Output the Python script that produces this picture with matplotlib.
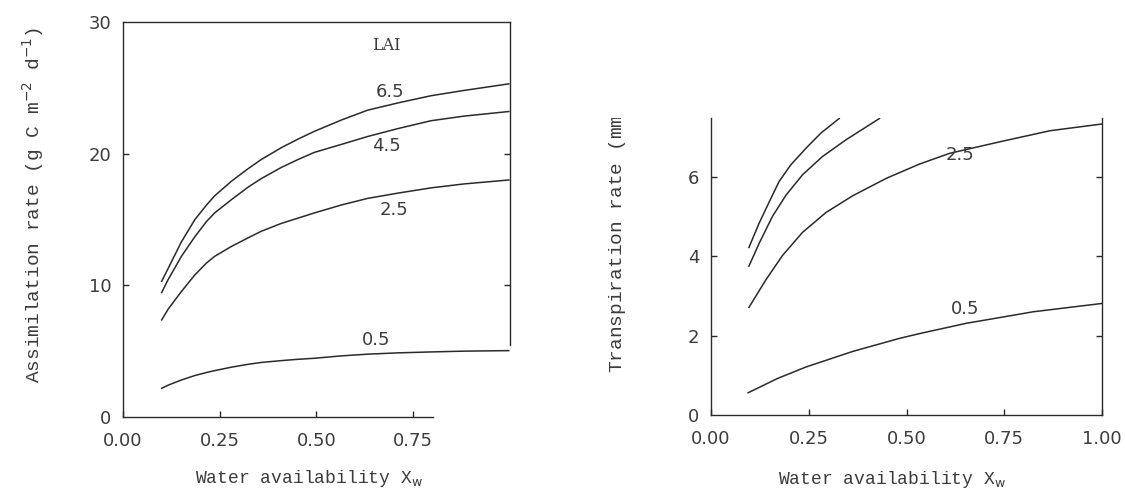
import matplotlib
matplotlib.use("Agg")
import matplotlib.pyplot as plt
from matplotlib.transforms import Bbox, TransformedBbox

# === Data ===
# Left panel: assimilation rate (g C m-2 d-1) vs water availability, per LAI
lai_labels = ["6.5", "4.5", "2.5", "0.5"]
asm_x = [0.10, 0.117, 0.151, 0.186, 0.216, 0.237, 0.280, 0.323, 0.357,
         0.409, 0.452, 0.495, 0.564, 0.632, 0.71, 0.796, 0.881, 0.997]
asm_y_65 = [10.3, 11.3, 13.3, 15.0, 16.1, 16.8, 17.9, 18.85, 19.55,
            20.45, 21.1, 21.7, 22.55, 23.3, 23.85, 24.4, 24.8, 25.3]
asm_y_45 = [9.45, 10.45, 12.2, 13.7, 14.85, 15.5, 16.5, 17.45, 18.1,
            18.95, 19.55, 20.1, 20.7, 21.3, 21.9, 22.5, 22.85, 23.2]
asm_y_25 = [7.37, 8.2, 9.53, 10.8, 11.7, 12.2, 12.95, 13.6, 14.1,
            14.7, 15.1, 15.5, 16.1, 16.6, 17.0, 17.4, 17.7, 18.0]
asm_y_05 = [2.18, 2.42, 2.81, 3.15, 3.38, 3.52, 3.78, 4.0, 4.14,
            4.28, 4.38, 4.46, 4.64, 4.77, 4.87, 4.94, 5.0, 5.04]

# Right panel: transpiration rate vs water availability, per LAI
tr_x_65 = [0.097, 0.123, 0.149, 0.174, 0.204, 0.243, 0.281, 0.328]
tr_y_65 = [4.22, 4.83, 5.37, 5.88, 6.30, 6.72, 7.10, 7.47]
tr_x_45 = [0.097, 0.123, 0.157, 0.192, 0.234, 0.285, 0.345, 0.431]
tr_y_45 = [3.75, 4.32, 5.0, 5.54, 6.05, 6.51, 6.93, 7.47]
tr_x_25 = [0.097, 0.140, 0.183, 0.234, 0.294, 0.362, 0.448, 0.533,
           0.61, 0.738, 0.867, 1.00]
tr_y_25 = [2.71, 3.40, 4.02, 4.60, 5.10, 5.52, 5.96, 6.32,
           6.59, 6.88, 7.16, 7.33]
tr_x_05 = [0.095, 0.17, 0.243, 0.362, 0.482, 0.533, 0.653, 0.824, 1.00]
tr_y_05 = [0.56, 0.92, 1.21, 1.60, 1.93, 2.05, 2.31, 2.60, 2.81]

x_ticks_left = [0.0, 0.25, 0.5, 0.75]
x_ticks_right = [0.0, 0.25, 0.5, 0.75, 1.0]
y_ticks_left = [0, 10, 20, 30]
y_ticks_right = [0, 2, 4, 6]

# === Styles ===
ink = "#2a2a2a"
txt = "#3c3c3c"
mono = "Liberation Mono"
tick_font = "DejaVu Sans"

fig = plt.figure(figsize=(11.25, 4.93), dpi=100)
fig.patch.set_facecolor("white")

ax1 = fig.add_axes([0.1093, 0.1542, 0.344, 0.8012])
ax2 = fig.add_axes([0.632, 0.1582, 0.3476, 0.6024])


def style_axes(ax, xt, yt, left_ticks, right_ticks):
    ax.set_xticks(xt)
    ax.set_yticks(yt)
    ax.set_xticklabels([f"{v:.2f}" for v in xt])
    ax.set_yticklabels([f"{v:g}" for v in yt])
    for s in ax.spines.values():
        s.set_color(ink)
        s.set_linewidth(1.0)
    ax.tick_params(axis="both", direction="in", length=4, width=1.0,
                   color=ink, labelcolor=txt, labelsize=13,
                   top=False, right=True)
    ax.tick_params(axis="x", pad=11)
    ax.tick_params(axis="y", pad=8.5)
    for lab in ax.get_xticklabels() + ax.get_yticklabels():
        lab.set_fontfamily(tick_font)
    # tick marks only where the scan shows them
    for t, v in zip(ax.yaxis.get_major_ticks(), yt):
        t.tick1line.set_visible(v in left_ticks)
        t.tick2line.set_visible(v in right_ticks)


# --- Left panel ---
for ys in [asm_y_65, asm_y_45, asm_y_25, asm_y_05]:
    ax1.plot(asm_x, ys, color=ink, lw=1.1, solid_joinstyle="round")
ax1.set_xlim(0, 1.0)
ax1.set_ylim(0, 30)
style_axes(ax1, x_ticks_left, y_ticks_left, left_ticks=[10, 20],
           right_ticks=[10, 20])
ax1.spines["bottom"].set_bounds(0, 0.8)
ax1.spines["right"].set_bounds(5.5, 30)

ax1.text(0.68, 28.2, "LAI", family="DejaVu Serif", fontsize=11.5,
         color=txt, ha="center", va="center")
asm_label_pos = [(0.69, 24.7), (0.68, 20.6), (0.70, 15.7), (0.654, 5.86)]
for lab, (lx, ly) in zip(lai_labels, asm_label_pos):
    ax1.text(lx, ly, lab, family=tick_font, fontsize=13, color=txt,
             ha="center", va="center")

# --- Right panel ---
for xs, ys in [(tr_x_65, tr_y_65), (tr_x_45, tr_y_45),
               (tr_x_25, tr_y_25), (tr_x_05, tr_y_05)]:
    ax2.plot(xs, ys, color=ink, lw=1.1, solid_joinstyle="round")
ax2.set_xlim(0, 1.0)
ax2.set_ylim(0, 7.48)
style_axes(ax2, x_ticks_right, y_ticks_right, left_ticks=[2, 4, 6],
           right_ticks=[2, 4, 6])
ax2.spines["top"].set_visible(False)

tr_label_pos = {"2.5": (0.636, 6.55), "0.5": (0.649, 2.66)}
for lab, (lx, ly) in tr_label_pos.items():
    ax2.text(lx, ly, lab, family=tick_font, fontsize=13, color=txt,
             ha="center", va="center")

# --- Axis titles (typewriter style) ---
fig.text(0.0293, 0.584, r"Assimilation rate (g C m$^{-2}$ d$^{-1}$)",
         rotation=90, ha="center", va="center", family=mono,
         fontsize=14, color=txt)
fig.text(0.2747, 0.030, r"Water availability X$_{\mathrm{w}}$",
         ha="center", va="center", family=mono, fontsize=13, color=txt)
fig.text(0.793, 0.028, r"Water availability X$_{\mathrm{w}}$",
         ha="center", va="center", family=mono, fontsize=13, color=txt)

# right y-label is cut off at the top of the scan
tr_lab = fig.text(0.5476, 0.2434, r"Transpiration rate (mm d$^{-1}$)",
                  rotation=90, ha="center", va="bottom", family=mono,
                  fontsize=14, color=txt)
tr_lab.set_clip_on(True)
tr_lab.set_clip_box(TransformedBbox(Bbox.from_extents(0.5, 0, 1, 0.7606),
                                    fig.transFigure))

fig.savefig("out.png", dpi=100)
